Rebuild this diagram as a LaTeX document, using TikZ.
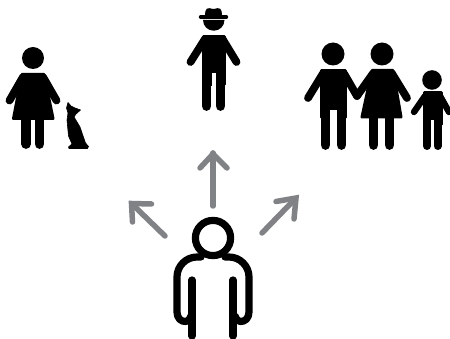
\documentclass[tikz,border=0pt]{standalone}
\definecolor{arrowgrey}{HTML}{808285}
\tikzset{
  limb/.style={line width=7.8pt,line cap=round,line join=round,black},
  leg/.style={line width=9.8pt,line cap=round,black},
  solid/.style={fill=black,draw=black,line width=3pt,line join=round},
  ray/.style={draw=arrowgrey,line width=5.5pt,line cap=round,line join=miter},
  outline/.style={draw=black,line width=7.2pt,line cap=round,line join=round}
}
\begin{document}
\begin{tikzpicture}[x=1pt,y=-1pt]
\useasboundingbox (0,0) rectangle (450,339);
\clip (0,0) rectangle (450,339);
% woman with cat
\fill (33,58) circle (11);
\draw[solid] (22,74.5) -- (44,74.5) -- (53,118.5) -- (13.5,118.5) -- cycle;
\draw[limb] (23,77) -- (9.5,100.5);
\draw[limb] (43,77) -- (56.5,100.5);
\draw[leg] (26,112) -- (26,144);
\draw[leg] (39.5,112) -- (39.5,144);
\draw[fill=black,line width=.6pt,line join=round] (68,102.5) -- (71,106) -- (75,108) -- (80.5,110) -- (76,114) -- (74,117) -- (80,127) -- (85.5,143) -- (88.5,146.5) -- (87.5,148.5)
  -- (69,148.5) -- (68.5,147) -- (72,144) -- (68.5,136) -- (67,120) -- (68,113) -- (66.5,108) -- cycle;
% man with hat
\fill (205,17) .. controls (205,7) and (207,7.5) .. (213.5,9) .. controls (220,7.5) and (222,7) .. (222,17) -- cycle;
\draw[black,line width=3.4pt,line cap=round] (200.5,17) -- (226.5,17);
\fill (203,20) -- (224.5,20) arc (0:180:10.75) -- cycle;
\draw[solid] (203.5,36.5) -- (224,36.5) -- (224,85) -- (203.5,85) -- cycle;
\draw[limb] (205,39) -- (190.5,62);
\draw[limb] (222.5,39) -- (236.5,62);
\draw[leg] (206.5,75) -- (206.5,106);
\draw[leg] (220.5,75) -- (220.5,106);
\fill[white] (211.5,73) rectangle (215.5,112);
% family: man
\fill (333,54) circle (11.5);
\draw[solid] (321.5,70.5) -- (345,70.5) -- (345,118) -- (321.5,118) -- cycle;
\draw[limb] (323,73.5) -- (308,98);
\draw[limb] (344,73.5) -- (357,96);
\draw[leg] (325.5,110) -- (325.5,145);
\draw[leg] (341.5,110) -- (341.5,145);
\fill[white] (330.2,110) rectangle (336.8,152);
% family: woman
\fill (382,54) circle (11.5);
\draw[solid] (372,70.5) -- (393,70.5) -- (401,117) -- (362,117) -- cycle;
\draw[limb] (373,73.5) -- (357,96);
\draw[limb] (392,73.5) -- (407,98);
\draw[leg] (373.5,112) -- (373.5,145);
\draw[leg] (389.5,112) -- (389.5,145);
% family: child
\fill (432,80) circle (9.8);
\draw[solid] (424,93) -- (441,93) -- (441,125) -- (424,125) -- cycle;
\draw[limb,line width=6.4pt] (425,96) -- (414,112);
\draw[limb,line width=6.4pt] (440,96) -- (449,112);
\draw[leg,line width=8pt] (427,120) -- (427,146);
\draw[leg,line width=8pt] (437.5,120) -- (437.5,146);
\fill[white] (431,120) rectangle (433.5,152);
% arrows
\draw[ray] (213,206) -- (213,153);
\draw[ray] (200,168) -- (213,154) -- (227,168);
\draw[ray] (165,236) -- (132,204);
\draw[ray] (132.5,222) -- (131.5,203.5) -- (151.5,204);
\draw[ray] (262,233) -- (295,199);
\draw[ray] (276,201.5) -- (296,198) -- (294,219);
% outline person
\draw[outline] (213,238) circle (17.6);
\draw[outline] (201,257) -- (197,257) .. controls (186,257) and (177,266) .. (177,277)
  -- (177,312) .. controls (177,318) and (181,322) .. (186,321.5) .. controls (188.5,321) and (190,319) .. (191,316);
\draw[outline] (225,257) -- (229,257) .. controls (240,257) and (249,266) .. (249,277)
  -- (249,312) .. controls (249,318) and (245,322) .. (240,321.5) .. controls (237.5,321) and (236,319) .. (235,316);
\draw[outline] (192,280) -- (192,336);
\draw[outline] (233,280) -- (233,336);
\end{tikzpicture}
\end{document}
